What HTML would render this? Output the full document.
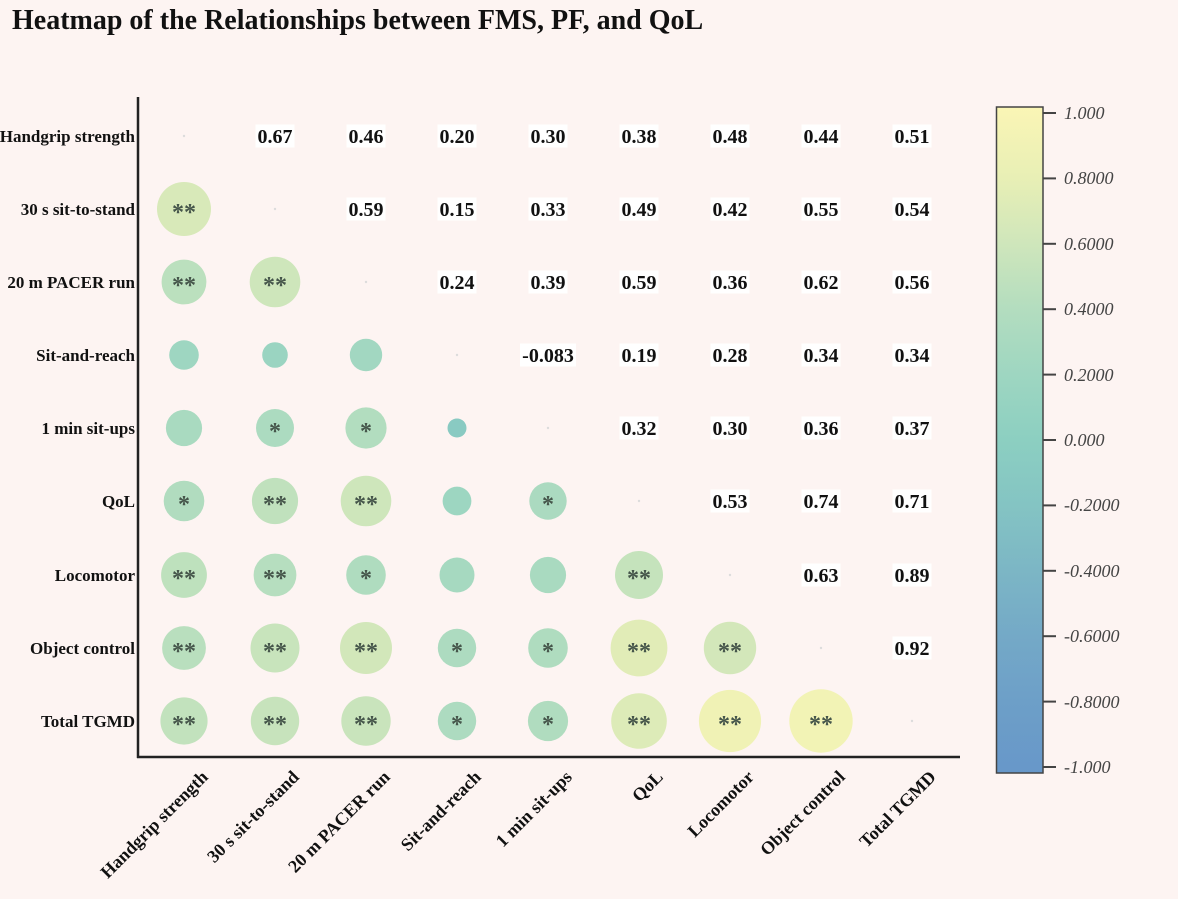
<!DOCTYPE html>
<html><head><meta charset="utf-8"><style>
html,body{margin:0;padding:0;background:#fdf4f2;}
svg{display:block;}
.t{font-family:"Liberation Serif",serif;}
</style></head><body>
<svg width="1178" height="899" viewBox="0 0 1178 899" xmlns="http://www.w3.org/2000/svg" class="t">
<defs>
<linearGradient id="cb" x1="0" y1="0" x2="0" y2="1">
<stop offset="0" stop-color="rgb(250,246,181)"/>
<stop offset="0.009" stop-color="rgb(249,245,181)"/>
<stop offset="0.107" stop-color="rgb(232,239,181)"/>
<stop offset="0.205" stop-color="rgb(207,230,187)"/>
<stop offset="0.304" stop-color="rgb(179,221,191)"/>
<stop offset="0.402" stop-color="rgb(158,214,193)"/>
<stop offset="0.5" stop-color="rgb(140,207,193)"/>
<stop offset="0.598" stop-color="rgb(132,196,195)"/>
<stop offset="0.696" stop-color="rgb(124,182,197)"/>
<stop offset="0.795" stop-color="rgb(116,169,199)"/>
<stop offset="0.893" stop-color="rgb(109,159,200)"/>
<stop offset="0.991" stop-color="rgb(104,152,201)"/>
<stop offset="1" stop-color="rgb(103,151,201)"/>
</linearGradient>
</defs>
<rect width="1178" height="899" fill="#fdf4f2"/>
<text x="12" y="29" font-size="28" font-weight="bold" fill="#111">Heatmap of the Relationships between FMS, PF, and QoL</text>

<!-- row labels -->
<g font-size="17" font-weight="bold" fill="#111" text-anchor="end">
<text x="135" y="142">Handgrip strength</text>
<text x="135" y="215">30 s sit-to-stand</text>
<text x="135" y="288">20 m PACER run</text>
<text x="135" y="361">Sit-and-reach</text>
<text x="135" y="434">1 min sit-ups</text>
<text x="135" y="507">QoL</text>
<text x="135" y="581">Locomotor</text>
<text x="135" y="654">Object control</text>
<text x="135" y="727">Total TGMD</text>
</g>

<!-- x labels -->
<g font-size="18" font-weight="bold" fill="#111" text-anchor="end">
<text transform="translate(209,778) rotate(-45)">Handgrip strength</text>
<text transform="translate(300,778) rotate(-45)">30 s sit-to-stand</text>
<text transform="translate(391,778) rotate(-45)">20 m PACER run</text>
<text transform="translate(482,778) rotate(-45)">Sit-and-reach</text>
<text transform="translate(573,778) rotate(-45)">1 min sit-ups</text>
<text transform="translate(664,778) rotate(-45)">QoL</text>
<text transform="translate(755,778) rotate(-45)">Locomotor</text>
<text transform="translate(846,778) rotate(-45)">Object control</text>
<text transform="translate(937,778) rotate(-45)">Total TGMD</text>
</g>

<!-- diagonal dots -->
<g fill="#dcdcdc">
<circle cx="184" cy="136" r="1.2"/><circle cx="275" cy="209" r="1.2"/><circle cx="366" cy="282" r="1.2"/>
<circle cx="457" cy="355" r="1.2"/><circle cx="548" cy="428" r="1.2"/><circle cx="639" cy="501" r="1.2"/>
<circle cx="730" cy="575" r="1.2"/><circle cx="821" cy="648" r="1.2"/><circle cx="912" cy="721" r="1.2"/>
</g>

<!-- circles lower triangle -->
<g>
<circle cx="184" cy="209" r="27.0" fill="rgb(216,233,185)"/>
<circle cx="184" cy="282" r="22.4" fill="rgb(187,224,190)"/>
<circle cx="275" cy="282" r="25.3" fill="rgb(206,230,187)"/>
<circle cx="184" cy="355" r="14.8" fill="rgb(158,214,193)"/>
<circle cx="275" cy="355" r="12.8" fill="rgb(154,212,193)"/>
<circle cx="366" cy="355" r="16.2" fill="rgb(162,215,193)"/>
<circle cx="184" cy="428" r="18.1" fill="rgb(169,218,192)"/>
<circle cx="275" cy="428" r="19.0" fill="rgb(172,219,192)"/>
<circle cx="366" cy="428" r="20.6" fill="rgb(178,221,191)"/>
<circle cx="457" cy="428" r="9.5" fill="rgb(137,202,194)"/>
<circle cx="184" cy="501" r="20.3" fill="rgb(177,220,191)"/>
<circle cx="275" cy="501" r="23.1" fill="rgb(192,225,189)"/>
<circle cx="366" cy="501" r="25.3" fill="rgb(206,230,187)"/>
<circle cx="457" cy="501" r="14.4" fill="rgb(157,214,193)"/>
<circle cx="548" cy="501" r="18.7" fill="rgb(171,218,192)"/>
<circle cx="184" cy="575" r="22.9" fill="rgb(190,225,189)"/>
<circle cx="275" cy="575" r="21.4" fill="rgb(182,222,191)"/>
<circle cx="366" cy="575" r="19.8" fill="rgb(175,220,191)"/>
<circle cx="457" cy="575" r="17.5" fill="rgb(166,217,192)"/>
<circle cx="548" cy="575" r="18.1" fill="rgb(169,218,192)"/>
<circle cx="639" cy="575" r="24.0" fill="rgb(197,227,188)"/>
<circle cx="184" cy="648" r="21.9" fill="rgb(185,223,190)"/>
<circle cx="275" cy="648" r="24.5" fill="rgb(200,228,188)"/>
<circle cx="366" cy="648" r="26.0" fill="rgb(210,231,186)"/>
<circle cx="457" cy="648" r="19.2" fill="rgb(173,219,192)"/>
<circle cx="548" cy="648" r="19.8" fill="rgb(175,220,191)"/>
<circle cx="639" cy="648" r="28.4" fill="rgb(225,236,183)"/>
<circle cx="730" cy="648" r="26.2" fill="rgb(211,231,186)"/>
<circle cx="184" cy="721" r="23.6" fill="rgb(194,226,189)"/>
<circle cx="275" cy="721" r="24.2" fill="rgb(199,227,188)"/>
<circle cx="366" cy="721" r="24.7" fill="rgb(201,228,188)"/>
<circle cx="457" cy="721" r="19.2" fill="rgb(173,219,192)"/>
<circle cx="548" cy="721" r="20.1" fill="rgb(176,220,191)"/>
<circle cx="639" cy="721" r="27.8" fill="rgb(221,235,184)"/>
<circle cx="730" cy="721" r="31.1" fill="rgb(240,242,181)"/>
<circle cx="821" cy="721" r="31.7" fill="rgb(242,243,181)"/>
</g>

<!-- significance stars -->
<g font-size="24" font-weight="bold" fill="#45554a" text-anchor="middle">
<text x="184" y="220">**</text>
<text x="184" y="293">**</text><text x="275" y="293">**</text>
<text x="275" y="439">*</text><text x="366" y="439">*</text>
<text x="184" y="512">*</text><text x="275" y="512">**</text><text x="366" y="512">**</text><text x="548" y="512">*</text>
<text x="184" y="586">**</text><text x="275" y="586">**</text><text x="366" y="586">*</text><text x="639" y="586">**</text>
<text x="184" y="659">**</text><text x="275" y="659">**</text><text x="366" y="659">**</text><text x="457" y="659">*</text><text x="548" y="659">*</text><text x="639" y="659">**</text><text x="730" y="659">**</text>
<text x="184" y="732">**</text><text x="275" y="732">**</text><text x="366" y="732">**</text><text x="457" y="732">*</text><text x="548" y="732">*</text><text x="639" y="732">**</text><text x="730" y="732">**</text><text x="821" y="732">**</text>
</g>

<!-- value boxes -->
<g fill="#ffffff">
<rect x="255.5" y="124.5" width="39" height="23"/><rect x="346.5" y="124.5" width="39" height="23"/><rect x="437.5" y="124.5" width="39" height="23"/><rect x="528.5" y="124.5" width="39" height="23"/><rect x="619.5" y="124.5" width="39" height="23"/><rect x="710.5" y="124.5" width="39" height="23"/><rect x="801.5" y="124.5" width="39" height="23"/><rect x="892.5" y="124.5" width="39" height="23"/>
<rect x="346.5" y="197.5" width="39" height="23"/><rect x="437.5" y="197.5" width="39" height="23"/><rect x="528.5" y="197.5" width="39" height="23"/><rect x="619.5" y="197.5" width="39" height="23"/><rect x="710.5" y="197.5" width="39" height="23"/><rect x="801.5" y="197.5" width="39" height="23"/><rect x="892.5" y="197.5" width="39" height="23"/>
<rect x="437.5" y="270.5" width="39" height="23"/><rect x="528.5" y="270.5" width="39" height="23"/><rect x="619.5" y="270.5" width="39" height="23"/><rect x="710.5" y="270.5" width="39" height="23"/><rect x="801.5" y="270.5" width="39" height="23"/><rect x="892.5" y="270.5" width="39" height="23"/>
<rect x="520" y="343.5" width="56" height="23"/><rect x="619.5" y="343.5" width="39" height="23"/><rect x="710.5" y="343.5" width="39" height="23"/><rect x="801.5" y="343.5" width="39" height="23"/><rect x="892.5" y="343.5" width="39" height="23"/>
<rect x="619.5" y="416.5" width="39" height="23"/><rect x="710.5" y="416.5" width="39" height="23"/><rect x="801.5" y="416.5" width="39" height="23"/><rect x="892.5" y="416.5" width="39" height="23"/>
<rect x="710.5" y="489.5" width="39" height="23"/><rect x="801.5" y="489.5" width="39" height="23"/><rect x="892.5" y="489.5" width="39" height="23"/>
<rect x="801.5" y="563.5" width="39" height="23"/><rect x="892.5" y="563.5" width="39" height="23"/>
<rect x="892.5" y="636.5" width="39" height="23"/>
</g>
<g font-size="20" font-weight="bold" fill="#111" text-anchor="middle">
<text x="275" y="143">0.67</text><text x="366" y="143">0.46</text><text x="457" y="143">0.20</text><text x="548" y="143">0.30</text><text x="639" y="143">0.38</text><text x="730" y="143">0.48</text><text x="821" y="143">0.44</text><text x="912" y="143">0.51</text>
<text x="366" y="216">0.59</text><text x="457" y="216">0.15</text><text x="548" y="216">0.33</text><text x="639" y="216">0.49</text><text x="730" y="216">0.42</text><text x="821" y="216">0.55</text><text x="912" y="216">0.54</text>
<text x="457" y="289">0.24</text><text x="548" y="289">0.39</text><text x="639" y="289">0.59</text><text x="730" y="289">0.36</text><text x="821" y="289">0.62</text><text x="912" y="289">0.56</text>
<text x="548" y="362">-0.083</text><text x="639" y="362">0.19</text><text x="730" y="362">0.28</text><text x="821" y="362">0.34</text><text x="912" y="362">0.34</text>
<text x="639" y="435">0.32</text><text x="730" y="435">0.30</text><text x="821" y="435">0.36</text><text x="912" y="435">0.37</text>
<text x="730" y="508">0.53</text><text x="821" y="508">0.74</text><text x="912" y="508">0.71</text>
<text x="821" y="582">0.63</text><text x="912" y="582">0.89</text>
<text x="912" y="655">0.92</text>
</g>

<!-- axes -->
<line x1="138" y1="97" x2="138" y2="758" stroke="#222" stroke-width="2.5"/>
<line x1="137" y1="757" x2="960" y2="757" stroke="#222" stroke-width="2.5"/>

<!-- colorbar -->
<rect x="996.5" y="107" width="46.5" height="666" fill="url(#cb)" stroke="#444" stroke-width="1.5"/>
<g stroke="#444" stroke-width="2">
<line x1="1043" y1="113" x2="1056" y2="113"/><line x1="1043" y1="178.4" x2="1056" y2="178.4"/><line x1="1043" y1="243.8" x2="1056" y2="243.8"/><line x1="1043" y1="309.2" x2="1056" y2="309.2"/><line x1="1043" y1="374.6" x2="1056" y2="374.6"/><line x1="1043" y1="440" x2="1056" y2="440"/><line x1="1043" y1="505.4" x2="1056" y2="505.4"/><line x1="1043" y1="570.8" x2="1056" y2="570.8"/><line x1="1043" y1="636.2" x2="1056" y2="636.2"/><line x1="1043" y1="701.6" x2="1056" y2="701.6"/><line x1="1043" y1="767" x2="1056" y2="767"/>
</g>
<g font-size="18" font-style="italic" fill="#444">
<text x="1064" y="119">1.000</text>
<text x="1064" y="184">0.8000</text>
<text x="1064" y="250">0.6000</text>
<text x="1064" y="315">0.4000</text>
<text x="1064" y="381">0.2000</text>
<text x="1064" y="446">0.000</text>
<text x="1064" y="511">-0.2000</text>
<text x="1064" y="577">-0.4000</text>
<text x="1064" y="642">-0.6000</text>
<text x="1064" y="708">-0.8000</text>
<text x="1064" y="773">-1.000</text>
</g>
</svg>
</body></html>
